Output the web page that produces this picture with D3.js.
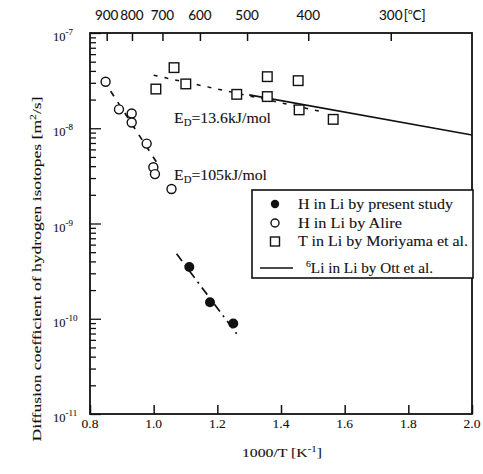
<!DOCTYPE html>
<html><head><meta charset="utf-8">
<script src="https://cdn.jsdelivr.net/npm/d3@7"></script>
<style>body{margin:0;background:#fff}svg{display:block}text{font-family:"Liberation Serif","Times New Roman",serif;fill:#111;stroke:#111;stroke-width:0.1px}</style>
</head><body><svg id="c" width="483" height="474"></svg>
<script>
// Data (x = 1000/T [1/K], y = D [m^2/s])
const presentX = [1.112, 1.177, 1.250];
const presentY = [3.5e-10, 1.49e-10, 8.9e-11];
const alireX = [0.849, 0.891, 0.931, 0.931, 0.978, 0.999, 1.004, 1.056];
const alireY = [3.08e-8, 1.58e-8, 1.43e-8, 1.15e-8, 6.9e-9, 3.9e-9, 3.3e-9, 2.3e-9];
const moriX = [1.007, 1.064, 1.101, 1.261, 1.357, 1.357, 1.454, 1.457, 1.564];
const moriY = [2.58e-8, 4.33e-8, 2.92e-8, 2.27e-8, 3.48e-8, 2.15e-8, 3.16e-8, 1.56e-8, 1.24e-8];
const ottX = [1.30, 2.0];
const ottY = [2.24e-8, 8.5e-9];
const alireFitX = [0.865, 1.015];
const alireFitY = [2.45e-8, 4.1e-9];
const moriFitX = [1.0, 1.53];
const moriFitY = [3.6e-8, 1.49e-8];
const presentFitX = [1.072, 1.269];
const presentFitY = [4.8e-10, 6.4e-11];
const xTicks = [0.8, 1.0, 1.2, 1.4, 1.6, 1.8, 2.0];
const yTickExp = [-7, -8, -9, -10, -11];
const tempTicks = [900, 800, 700, 600, 500, 400, 300];
const legendLabels = ["H in Li by present study", "H in Li by Alire", "T in Li by Moriyama et al.", "Li in Li by Ott et al."];

const svg = d3.select("#c");
const L = 90, R = 472, T = 33, B = 414;
const x = d3.scaleLinear().domain([0.8, 2.0]).range([L, R]);
const y = d3.scaleLog().domain([1e-11, 1e-7]).range([B, T]);
const ink = "#111";

// bottom axis ticks
const gb = svg.append("g").attr("transform", `translate(0,${B})`)
  .call(d3.axisBottom(x).tickValues(xTicks).tickFormat("").tickSize(-9));
gb.select(".domain").remove();
gb.selectAll("line").attr("stroke", ink).attr("stroke-width", 1.5);
xTicks.forEach(v => {
  svg.append("text").attr("x", x(v)).attr("y", 428).attr("text-anchor", "middle")
    .style("font-size", "13.5px").text(d3.format(".1f")(v));
});

// left axis (log) with minor ticks
const minor = [];
for (let e = -11; e < -7; e++) for (let m = 2; m <= 9; m++) minor.push(m * Math.pow(10, e));
const gl = svg.append("g").attr("transform", `translate(${L},0)`);
gl.call(d3.axisLeft(y).tickValues(minor).tickFormat("").tickSize(-6));
gl.append("g").call(d3.axisLeft(y).tickValues(yTickExp.map(e => Math.pow(10, e))).tickFormat("").tickSize(-11));
gl.selectAll(".domain").remove();
gl.selectAll("line").attr("stroke", ink).attr("stroke-width", 1.3);
yTickExp.forEach(e => {
  const t = svg.append("text").attr("x", 53).attr("y", y(Math.pow(10, e)) + 8)
    .style("font-size", "12.5px");
  t.append("tspan").text("10");
  t.append("tspan").attr("dy", -6).style("font-size", "9px").text(String(e));
});

// top temperature axis
const tx = tc => x(1000 / (tc + 273.15));
const gt = svg.append("g").attr("transform", `translate(0,${T})`)
  .call(d3.axisTop(x).tickValues(tempTicks.map(tc => 1000 / (tc + 273.15))).tickFormat("").tickSize(-8));
gt.select(".domain").remove();
gt.selectAll("line").attr("stroke", ink).attr("stroke-width", 1.5);
tempTicks.forEach(tc => {
  svg.append("text").attr("x", tx(tc)).attr("y", 20).attr("text-anchor", "middle")
    .style("font-family", 'Lato,"Open Sans",sans-serif').style("font-size", "13.5px").text(tc);
});
const cl = svg.append("text").attr("x", tx(300) + 13).attr("y", 20)
  .style("font-family", 'Lato,"Open Sans",sans-serif').style("font-size", "13.5px");
cl.append("tspan").text("[");
cl.append("tspan").attr("dy", -6).style("font-size", "8px").text("o");
cl.append("tspan").attr("dy", 6).text("C]");

// frame
svg.append("rect").attr("x", L).attr("y", T).attr("width", R - L).attr("height", B - T)
  .attr("fill", "none").attr("stroke", ink).attr("stroke-width", 1.8);

// fit lines
const line = d3.line().x(d => x(d[0])).y(d => y(d[1]));
const pts = (xs, ys) => xs.map((v, i) => [v, ys[i]]);
svg.append("path").attr("d", line(pts(alireFitX, alireFitY))).attr("fill", "none").attr("stroke", ink)
  .attr("stroke-width", 1.7).attr("stroke-dasharray", "6,7");
svg.append("path").attr("d", line(pts(moriFitX, moriFitY))).attr("fill", "none").attr("stroke", ink)
  .attr("stroke-width", 1.5).attr("stroke-dasharray", "4,7");
svg.append("path").attr("d", line(pts(presentFitX, presentFitY))).attr("fill", "none").attr("stroke", ink)
  .attr("stroke-width", 1.7).attr("stroke-dasharray", "9,5,2,5");
svg.append("path").attr("d", line(pts(ottX, ottY))).attr("fill", "none").attr("stroke", ink).attr("stroke-width", 1.7);

// markers
svg.selectAll(".alire").data(pts(alireX, alireY)).join("circle")
  .attr("cx", d => x(d[0])).attr("cy", d => y(d[1])).attr("r", 4.5)
  .attr("fill", "#fff").attr("stroke", ink).attr("stroke-width", 1.4);
svg.selectAll(".mori").data(pts(moriX, moriY)).join("rect")
  .attr("x", d => x(d[0]) - 4.8).attr("y", d => y(d[1]) - 4.8).attr("width", 9.6).attr("height", 9.6)
  .attr("fill", "#fff").attr("stroke", ink).attr("stroke-width", 1.4);
svg.selectAll(".pres").data(pts(presentX, presentY)).join("circle")
  .attr("cx", d => x(d[0])).attr("cy", d => y(d[1])).attr("r", 5).attr("fill", ink);

// energy labels
function eLabel(px, py, val, w) {
  const t = svg.append("text").attr("x", px).attr("y", py).style("font-size", "14px")
    .attr("textLength", w).attr("lengthAdjust", "spacingAndGlyphs");
  t.append("tspan").text("E");
  t.append("tspan").attr("dy", 3).style("font-size", "9.5px").text("D");
  t.append("tspan").attr("dy", -3).text("=" + val + "kJ/mol");
}
eLabel(174, 123, "13.6", 97);
eLabel(174, 180, "105", 93);

// legend
const lg = svg.append("g");
lg.append("rect").attr("x", 252).attr("y", 190).attr("width", 221).attr("height", 88)
  .attr("fill", "#fff").attr("stroke", ink).attr("stroke-width", 1.6);
const rows = [204, 223, 241.5, 268];
const widths = [155, 104, 170, 127];
lg.append("circle").attr("cx", 275).attr("cy", rows[0]).attr("r", 4.2).attr("fill", ink);
lg.append("circle").attr("cx", 275).attr("cy", rows[1]).attr("r", 4).attr("fill", "#fff").attr("stroke", ink).attr("stroke-width", 1.4);
lg.append("rect").attr("x", 270.5).attr("y", rows[2] - 4.5).attr("width", 9).attr("height", 9).attr("fill", "#fff").attr("stroke", ink).attr("stroke-width", 1.4);
lg.append("line").attr("x1", 260).attr("x2", 293).attr("y1", rows[3]).attr("y2", rows[3]).attr("stroke", ink).attr("stroke-width", 1.5);
legendLabels.forEach((s, i) => {
  const t = lg.append("text").attr("x", i === 3 ? 306 : 298).attr("y", rows[i] + 4.5).style("font-size", "14px")
    .attr("textLength", widths[i]).attr("lengthAdjust", "spacingAndGlyphs");
  if (i === 3) { t.append("tspan").attr("dy", -6).style("font-size", "9px").text("6"); t.append("tspan").attr("dy", 6).text(s); }
  else t.text(s);
});

// axis titles
const yt = svg.append("text").attr("transform", "translate(41,269) rotate(-90)").attr("text-anchor", "middle")
  .style("font-size", "13.5px").attr("textLength", 345).attr("lengthAdjust", "spacingAndGlyphs");
yt.append("tspan").text("Diffusion coefficient of hydrogen isotopes [m");
yt.append("tspan").attr("dy", -5).style("font-size", "9px").text("2");
yt.append("tspan").attr("dy", 5).text("/s]");
const xt = svg.append("text").attr("x", 282).attr("y", 457).attr("text-anchor", "middle").style("font-size", "13px")
  .attr("textLength", 80).attr("lengthAdjust", "spacingAndGlyphs");
xt.append("tspan").text("1000/T [K");
xt.append("tspan").attr("dy", -5).style("font-size", "9px").text("-1");
xt.append("tspan").attr("dy", 5).text("]");
</script></body></html>
